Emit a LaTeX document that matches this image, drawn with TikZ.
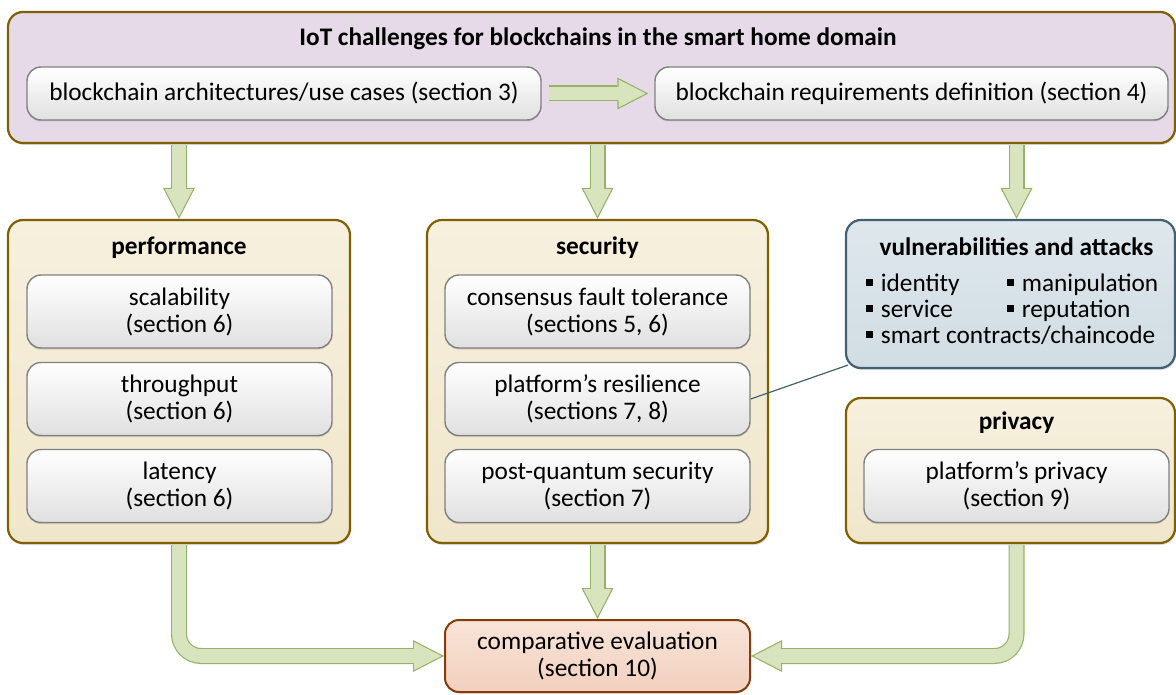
\documentclass[tikz,border=0pt]{standalone}
\usepackage{fontspec}
\setmainfont{Carlito}
\usetikzlibrary{arrows.meta, shadows}

\definecolor{topfill}{RGB}{230,218,233}
\definecolor{goldline}{RGB}{127,96,0}
\definecolor{beigetop}{RGB}{246,240,222}
\definecolor{beigefill}{RGB}{240,230,203}
\definecolor{grayline}{RGB}{128,128,128}
\definecolor{grayfill}{RGB}{224,224,224}
\definecolor{slatetop}{RGB}{222,231,236}
\definecolor{slatefill}{RGB}{209,221,228}
\definecolor{slateline}{RGB}{66,96,112}
\definecolor{peachtop}{RGB}{248,228,216}
\definecolor{peachfill}{RGB}{242,208,190}
\definecolor{brownline}{RGB}{132,60,12}
\definecolor{flowgreen}{RGB}{215,228,189}
\definecolor{flowedge}{RGB}{150,178,104}

\newcommand{\sqb}{\raisebox{0.2em}{\rule{0.28em}{0.28em}}\hspace{0.3em}}
\newcommand{\flow}[2][]{%
    \draw [flowback, #1] #2;
    \draw [flowfront, #1] #2;
}

\tikzset{
    heading/.style={font=\fontsize{25.3}{27}\selectfont\bfseries},
    topbox/.style={rectangle, rounded corners=15pt, draw=goldline, line width=2.2pt,
        fill=topfill, drop shadow={opacity=0.25, shadow xshift=1pt, shadow yshift=-2pt}},
    groupbox/.style={rectangle, rounded corners=15pt, draw=goldline, line width=2.2pt,
        top color=beigetop, bottom color=beigefill,
        drop shadow={opacity=0.25, shadow xshift=1pt, shadow yshift=-2pt}},
    threatbox/.style={groupbox, draw=slateline, top color=slatetop, bottom color=slatefill},
    itembox/.style={rectangle, rounded corners=14pt, draw=grayline, line width=1.4pt,
        top color=white, bottom color=grayfill, align=center, inner sep=0pt,
        drop shadow={opacity=0.3, shadow xshift=0pt, shadow yshift=-1.5pt}},
    itemtall/.style={itembox, minimum width=305pt, minimum height=73pt},
    resultbox/.style={itemtall, draw=brownline, line width=2pt,
        top color=peachtop, bottom color=peachfill},
    flowback/.style={line width=16pt, draw=flowedge, shorten <=1.1pt,
        -{Triangle[length=31pt, width=32pt, line width=0pt 0]}},
    flowfront/.style={line width=13.6pt, draw=flowgreen, shorten <=1.1pt, shorten >=2.6pt,
        -{Triangle[length=27.2pt, width=28pt, line width=0pt 0]}},
}

\begin{document}
\begin{tikzpicture}[x=1pt, y=-1pt, every node/.style={font=\fontsize{25.3}{27}\selectfont}]
    \useasboundingbox (0, 0) rectangle (1176, 695);

    % challenges
    \node [topbox, minimum width=1167pt, minimum height=131pt] (top) at (591.5, 77.5) {};
    \node [heading] (toptitle) at (598, 39) {IoT challenges for blockchains in the smart home domain};
    \node [itembox, minimum width=514pt, minimum height=53pt] (arch) at (284, 93.5)
        {blockchain architectures/use cases (section 3)};
    \node [itembox, minimum width=513pt, minimum height=53pt] (reqs) at (911.5, 93.5)
        {blockchain requirements definition (section 4)};

    % performance
    \node [groupbox, minimum width=342pt, minimum height=323pt] (perf) at (179, 381.5) {};
    \node [heading] (perftitle) at (179, 248) {performance};
    \node [itemtall] (scal) at (179.5, 311.5) {scalability\\(section 6)};
    \node [itemtall] (thru) at (179.5, 399) {throughput\\(section 6)};
    \node [itemtall] (lat) at (179.5, 486) {latency\\(section 6)};

    % security
    \node [groupbox, minimum width=341pt, minimum height=323pt] (sec) at (597.5, 381.5) {};
    \node [heading] (sectitle) at (597.5, 248) {security};
    \node [itemtall] (cons) at (597.5, 311.5) {consensus fault tolerance\\(sections 5, 6)};
    \node [itemtall] (resil) at (597.5, 399) {platform’s resilience\\(sections 7, 8)};
    \node [itemtall] (pq) at (597.5, 486) {post-quantum security\\(section 7)};

    % vulnerabilities
    \node [threatbox, minimum width=329pt, minimum height=148pt] (vuln) at (1010.5, 294) {};
    \node [heading] (vulntitle) at (1016.5, 247) {vulnerabilities and attacks};
    \node [anchor=west, inner sep=0pt] (vulnlist) at (866, 312) {%
        \renewcommand{\arraystretch}{0.96}%
        \begin{tabular}{@{}p{141pt}@{}l@{}}
            \sqb identity & \sqb manipulation\\
            \sqb service & \sqb reputation\\
            \multicolumn{2}{@{}l@{}}{\sqb smart contracts/chaincode}
        \end{tabular}};

    % privacy
    \node [groupbox, minimum width=329pt, minimum height=145pt] (priv) at (1010.5, 470.5) {};
    \node [heading] (privtitle) at (1016.5, 423) {privacy};
    \node [itemtall] (ppriv) at (1016.5, 486) {platform’s privacy\\(section 9)};

    % evaluation
    \node [resultbox, minimum height=72pt] (comp) at (597.5, 656) {comparative evaluation\\(section 10)};

    \draw [slateline, line width=1.2pt] (resil.east) -- ([shift={(3pt, 4pt)}]vuln.south west);

    \coordinate (archout) at ([xshift=6pt]arch.east);
    \coordinate (reqsin) at ([xshift=-6pt]reqs.west);
    \flow{(archout) -- (reqsin)}
    \flow{(top.south -| perf.north) -- (perf.north)}
    \flow{(top.south -| sec.north) -- (sec.north)}
    \flow{(top.south -| ppriv.north) -- (vuln.north -| ppriv.north)}
    \flow[rounded corners=22pt]{(perf.south) |- (comp.west)}
    \flow{(sec.south) -- (comp.north)}
    \flow[rounded corners=22pt]{(priv.south -| ppriv.south) |- (comp.east)}
\end{tikzpicture}
\end{document}
